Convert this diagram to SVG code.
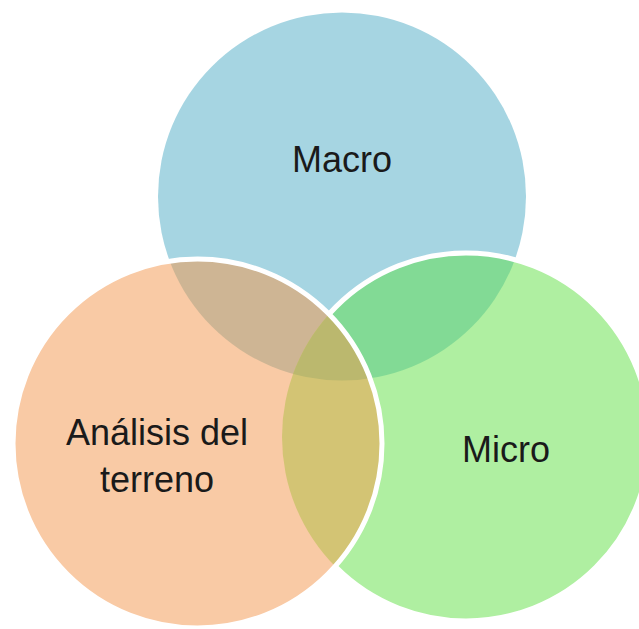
<svg xmlns="http://www.w3.org/2000/svg" width="639" height="629" viewBox="0 0 639 629">
  <style>
    .lbl { font-family: "Liberation Sans", Arial, sans-serif; font-size: 36px; fill: #1a1a1a; text-anchor: middle; }
    .edge { fill: none; stroke: #ffffff; stroke-width: 5; }
  </style>
  <defs>
    <clipPath id="clip-blue"><circle cx="342" cy="196.5" r="184"/></clipPath>
    <clipPath id="clip-orange"><circle cx="197.5" cy="443.5" r="184.5"/></clipPath>
  </defs>
  <rect width="639" height="629" fill="#ffffff"/>
  <g id="node-macro">
    <circle cx="342" cy="196.5" r="184" fill="#A6D5E2"/>
    <text class="lbl" x="342" y="172">Macro</text>
  </g>
  <g id="node-micro">
    <circle cx="466" cy="437" r="184" fill="#AFEFA1"/>
    <circle cx="466" cy="437" r="184" fill="#82DA95" clip-path="url(#clip-blue)"/>
    <circle class="edge" cx="466" cy="437" r="184"/>
    <text class="lbl" x="506" y="462">Micro</text>
  </g>
  <g id="node-analisis">
    <circle cx="197.5" cy="443.5" r="184.5" fill="#F9CAA5"/>
    <g clip-path="url(#clip-orange)">
      <circle cx="342" cy="196.5" r="184" fill="#CEB594"/>
      <circle cx="466" cy="437" r="184" fill="#D3C474"/>
      <circle cx="466" cy="437" r="184" fill="#BBB86E" clip-path="url(#clip-blue)"/>
    </g>
    <circle class="edge" cx="197.5" cy="443.5" r="184.5"/>
    <text class="lbl" x="157" y="445">Análisis del</text>
    <text class="lbl" x="157" y="492">terreno</text>
  </g>
</svg>
